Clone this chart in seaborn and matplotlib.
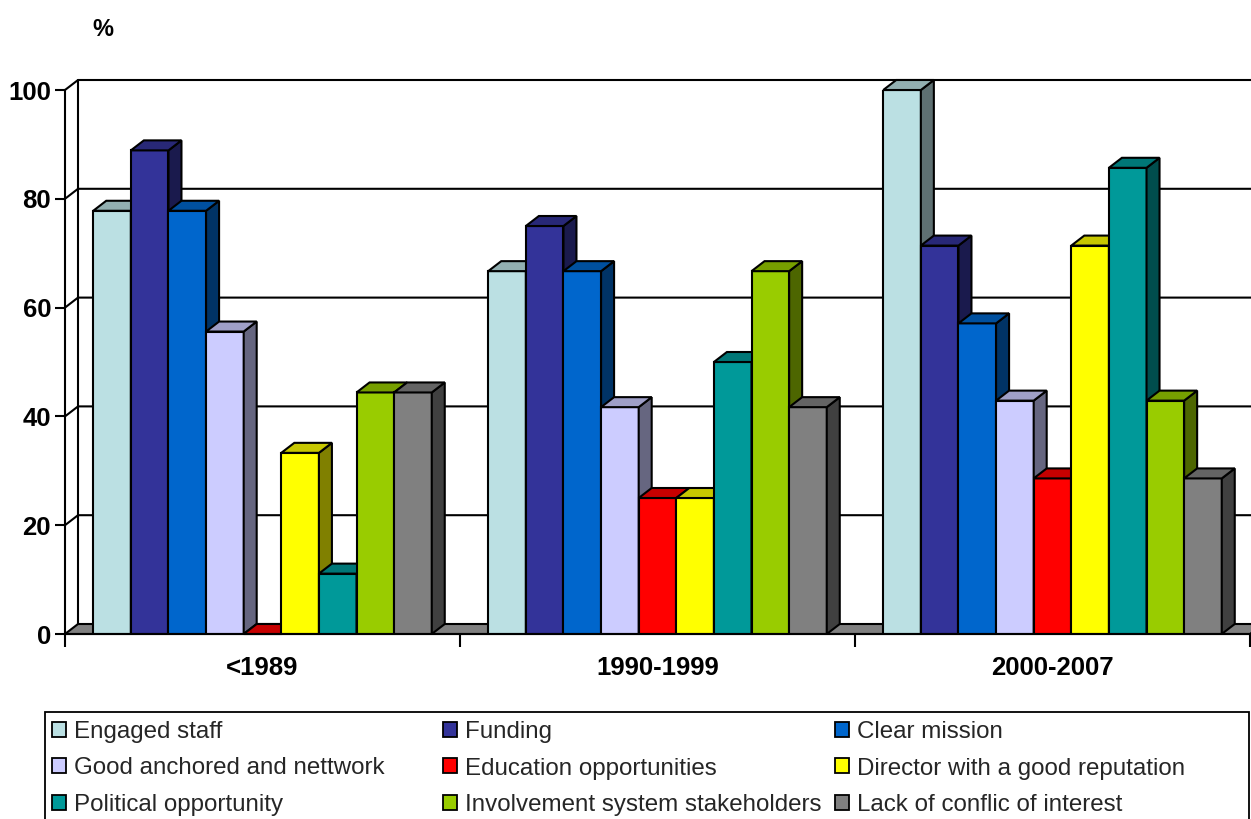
import numpy as np
import pandas as pd
import seaborn as sns
import matplotlib
matplotlib.use('Agg')
import matplotlib.pyplot as plt
from matplotlib.patches import Polygon, Rectangle, Patch
import matplotlib.colors as mcolors

periods = ['<1989', '1990-1999', '2000-2007']
factors = ['Engaged staff', 'Funding', 'Clear mission',
           'Good anchored and nettwork', 'Education opportunities',
           'Director with a good reputation', 'Political opportunity',
           'Involvement system stakeholders', 'Lack of conflic of interest']
engaged = [77.8, 66.7, 100.0]
funding = [88.9, 75.0, 71.4]
clear_mission = [77.8, 66.7, 57.1]
anchored = [55.6, 41.7, 42.9]
education = [0.0, 25.0, 28.6]
director = [33.3, 25.0, 71.4]
political = [11.1, 50.0, 85.7]
involvement = [44.4, 66.7, 42.9]
lack_conflict = [44.4, 41.7, 28.6]
series = [engaged, funding, clear_mission, anchored, education, director,
          political, involvement, lack_conflict]
colors = ['#BBE0E3', '#333399', '#0066CC', '#CCCCFF', '#FF0000', '#FFFF00',
          '#009999', '#99CC00', '#808080']
yticks = [0, 20, 40, 60, 80, 100]

sns.set_style('white')
plt.rcParams['font.family'] = ['Liberation Sans', 'DejaVu Sans']

rows = []
for f, vals in zip(factors, series):
    for p, v in zip(periods, vals):
        rows.append({'period': p, 'factor': f, 'value': v})
df = pd.DataFrame(rows)

FW, FH = 1251, 819
fig = plt.figure(figsize=(FW / 100, FH / 100), dpi=100)
L, R = 65 / FW, 1250 / FW
B, T = 1 - 634 / FH, 1 - 90 / FH
ax = fig.add_axes([L, B, R - L, T - B])

sns.barplot(data=df, x='period', y='value', hue='factor', order=periods,
            hue_order=factors, palette=colors, width=0.857, saturation=1,
            edgecolor='black', linewidth=1.5, errorbar=None, legend=False, ax=ax)
ax.set_xlim(-0.5, 2.5)
ax.set_ylim(0, 100)
ax.set_xlabel('')
ax.set_ylabel('')
for s in ax.spines.values():
    s.set_visible(False)
ax.spines['left'].set_visible(True)
ax.spines['bottom'].set_visible(True)
for s in ('left', 'bottom'):
    ax.spines[s].set_color('black')
    ax.spines[s].set_linewidth(1.5)
    ax.spines[s].set_zorder(50)

W_px = (R - L) * FW
H_px = (T - B) * FH
dx = 3.0 / W_px * 13
dy = 100.0 / H_px * 10

# floor
floor = Polygon([(-0.5, 0), (2.5, 0), (2.5 + dx, dy), (-0.5 + dx, dy)],
                closed=True, facecolor='#808080', edgecolor='black', lw=1.5,
                zorder=1, clip_on=False)
ax.add_patch(floor)
# back wall gridlines + left wall
ax.plot([-0.5 + dx, -0.5 + dx], [dy, 100 + dy], color='black', lw=1.5,
        zorder=0.8, clip_on=False)
for v in yticks[1:]:
    ax.plot([-0.5, -0.5 + dx, 2.7], [v, v + dy, v + dy], color='black', lw=1.5,
            zorder=0.8, clip_on=False)


def shade(c, f):
    r, g, b = mcolors.to_rgb(c)
    return (r * f, g * f, b * f)


bars = sorted([p for p in ax.patches if isinstance(p, Rectangle) and p is not floor],
              key=lambda p: p.get_x())
for i, p in enumerate(bars):
    x0, w, h = p.get_x(), p.get_width(), p.get_height()
    fc = p.get_facecolor()
    z = 2 + i * 0.1
    p.set_zorder(z)
    top = Polygon([(x0, h), (x0 + w, h), (x0 + w + dx, h + dy), (x0 + dx, h + dy)],
                  closed=True, facecolor=shade(fc, 0.78), edgecolor='black',
                  lw=1.5, zorder=z + 0.01, clip_on=False)
    side = Polygon([(x0 + w, 0), (x0 + w + dx, dy), (x0 + w + dx, h + dy), (x0 + w, h)],
                   closed=True, facecolor=shade(fc, 0.5), edgecolor='black',
                   lw=1.5, zorder=z + 0.01, clip_on=False)
    ax.add_patch(side)
    ax.add_patch(top)

ax.set_yticks(yticks)
ax.set_yticklabels([str(v) for v in yticks], fontsize=18.5, fontweight='bold', color='black')
ax.tick_params(axis='y', left=True, length=7, width=1.5, color='black', pad=3)
ax.set_xticks([-0.5, 0.5, 1.5, 2.5])
ax.set_xticklabels([])
ax.set_xticks([0, 1, 2], minor=True)
ax.set_xticklabels(periods, minor=True, fontsize=18.5, fontweight='bold', color='black')
ax.tick_params(axis='x', which='major', bottom=True, length=9, width=1.5,
               color='black', direction='out')
ax.tick_params(axis='x', which='minor', bottom=True, length=0, pad=16)

fig.text(103 / FW, 1 - 29 / FH, '%', ha='center', va='center',
         fontsize=17, fontweight='bold', color='black')

# legend (3 columns, equal widths)
col_x = [52, 443, 835]
for c in range(3):
    idx = [c, c + 3, c + 6]
    handles = [Patch(facecolor=colors[k], edgecolor='black', lw=1.3) for k in idx]
    labels = [factors[k] for k in idx]
    fig.legend(handles, labels, loc='upper left',
               bbox_to_anchor=(col_x[c] / FW, 1 - 721 / FH), frameon=False,
               fontsize=17.4, handlelength=0.58, handleheight=0.58,
               handletextpad=0.33, labelspacing=0.6, borderpad=0,
               borderaxespad=0)
fig.patches.append(Rectangle((45 / FW, -0.01), (1249 - 45) / FW, 1 - 712 / FH + 0.01,
                             transform=fig.transFigure, fill=False,
                             edgecolor='black', lw=1.3))

fig.savefig('out.png', dpi=100)
